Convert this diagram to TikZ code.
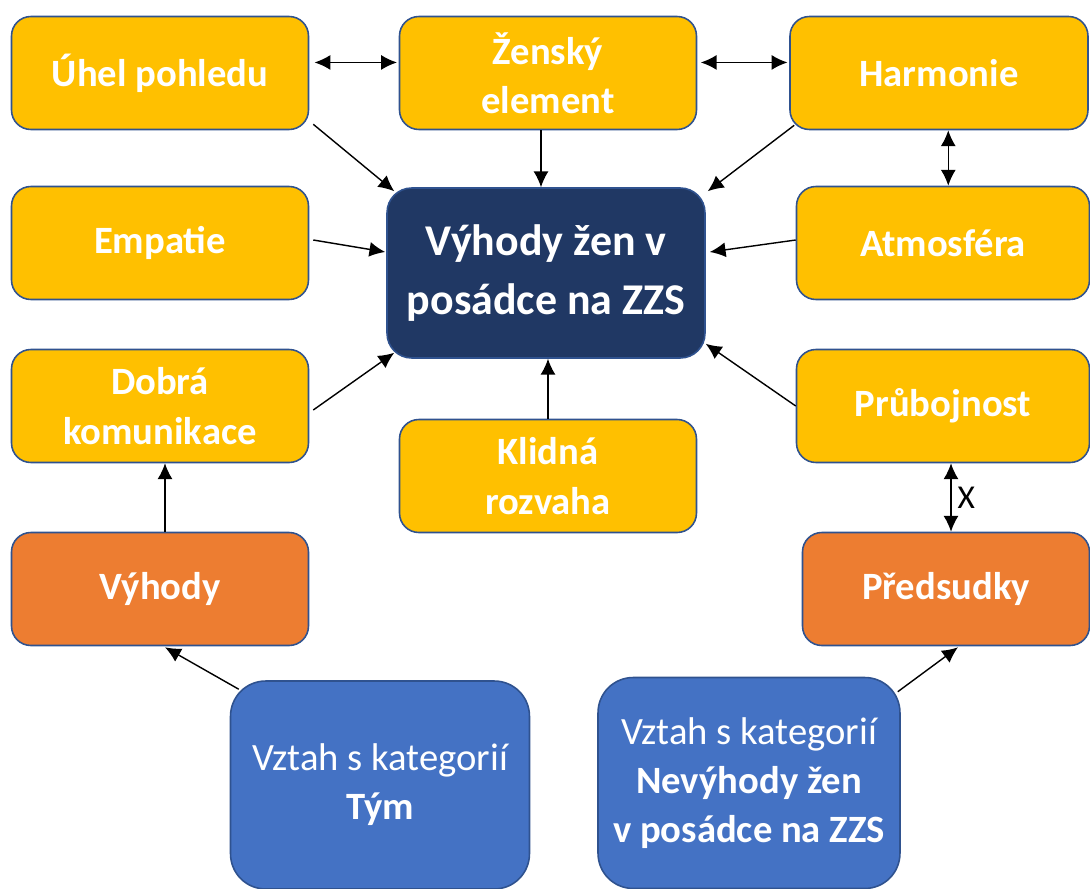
\documentclass[tikz,border=0pt]{standalone}
\usepackage{fontspec}
\setmainfont{Carlito}
\usetikzlibrary{arrows.meta}
\usetikzlibrary{calc}

\definecolor{boxyellow}{HTML}{FFC000}
\definecolor{boxorange}{HTML}{ED7D31}
\definecolor{boxblue}{HTML}{4472C4}
\definecolor{boxnavy}{HTML}{203864}
\definecolor{boxline}{HTML}{2F528F}

\tikzset{
  box/.style={draw=boxline, line width=0.9pt, rounded corners=11pt, text=white,
    align=center, inner sep=2pt, font=\fontsize{22}{28}\selectfont\bfseries,
    minimum width=5.94cm, minimum height=2.26cm},
  yellowbox/.style={box, fill=boxyellow},
  orangebox/.style={box, fill=boxorange},
  mainbox/.style={box, fill=boxnavy, rounded corners=14pt,
    font=\fontsize{25}{34}\selectfont\bfseries,
    minimum width=6.36cm, minimum height=3.4cm},
  relbox/.style={box, fill=boxblue, rounded corners=20pt,
    font=\fontsize{22}{28}\selectfont, minimum width=5.98cm, minimum height=4.16cm},
  link/.style={line width=0.8pt, ->},
  twolink/.style={line width=0.8pt, <->}
}

\begin{document}
\begin{tikzpicture}[x=0.02cm, y=-0.02cm, >={Latex[length=9pt,width=8.5pt]}]
  \path[use as bounding box] (0, 0) rectangle (1090, 889);

%%%%%%%%%%%% centre
  \node[mainbox] at (546, 273) (central) {Výhody žen v\\posádce na ZZS};

%%%%%%%%%%%% top row
  \node[yellowbox] at (160, 73) (uhel) {Úhel pohledu};
  \node[yellowbox] at (548, 73) (zensky) {Ženský\\element};
  \node[yellowbox, minimum width=5.96cm] at (939, 73) (harmonie) {Harmonie};

%%%%%%%%%%%% middle rows
  \node[yellowbox] at (160, 243) (empatie) {Empatie};
  \node[yellowbox, minimum width=5.86cm] at (943, 243) (atmosfera) {Atmosféra};
  \node[yellowbox] at (160, 406) (dobra) {Dobrá\\komunikace};
  \node[yellowbox] at (548, 476) (klidna) {Klidná\\rozvaha};
  \node[yellowbox, minimum width=5.86cm] at (943, 406) (prubojnost) {Průbojnost};

%%%%%%%%%%%% orange row
  \node[orangebox] at (160, 589) (vyhody) {Výhody};
  \node[orangebox, minimum width=5.74cm] at (946, 589) (predsudky) {Předsudky};

%%%%%%%%%%%% categories
  \node[relbox] at (380, 785) (tym) {Vztah s kategorií\\\textbf{Tým}};
  \node[relbox, minimum width=6.04cm, minimum height=4.22cm] at (749, 783) (nevyhody)
    {Vztah s kategorií\\\textbf{Nevýhody žen}\\\textbf{v posádce na ZZS}};

%%%%%%%%%%%% connectors
  \draw[twolink] ([xshift=3pt, yshift=6pt]uhel.east) -- ([xshift=-1pt, yshift=6pt]zensky.west);
  \draw[twolink] ([xshift=2pt, yshift=6pt]zensky.east) -- ([xshift=-1pt, yshift=6pt]harmonie.west);
  \draw[twolink] ([xshift=3pt]atmosfera.north) -- ([xshift=3pt]atmosfera.north |- harmonie.south);
  \draw[link] ([shift={(4,-6)}]uhel.south east) -- ([shift={(8,4)}]central.north west);
  \draw[link] ([shift={(-7,0)}]zensky.south) -- ([shift={(-7,0)}]zensky.south |- central.north);
  \draw[link] ([shift={(5,-5)}]harmonie.south west) -- ([shift={(2,4)}]central.north east);
  \draw[link] ([shift={(4,-3)}]empatie.east) -- ([shift={(-1,-21)}]central.west);
  \draw[link] ([shift={(0,-3)}]atmosfera.west) -- ([shift={(4,-21)}]central.east);
  \draw[link] ([shift={(4,4)}]dobra.east) -- ([shift={(8,-6)}]central.south west);
  \draw[link] (klidna.north) -- (klidna.north |- central.south);
  \draw[link] (prubojnost.west) -- ([shift={(0,-15)}]central.south east);
  \draw[twolink] ([shift={(8,0)}]prubojnost.south) -- ([shift={(8,0)}]prubojnost.south |- predsudky.north)
    node[midway, right, font=\fontsize{19}{21}\selectfont] {X};
  \draw[link] ([shift={(5,0)}]vyhody.north) -- ([shift={(5,0)}]vyhody.north |- dobra.south);
  \draw[link] ([shift={(9,9)}]tym.north west) -- ([shift={(5,1)}]vyhody.south);
  \draw[link] ([shift={(-3,15)}]nevyhody.north east) -- ([shift={(12,1)}]predsudky.south);
\end{tikzpicture}
\end{document}
